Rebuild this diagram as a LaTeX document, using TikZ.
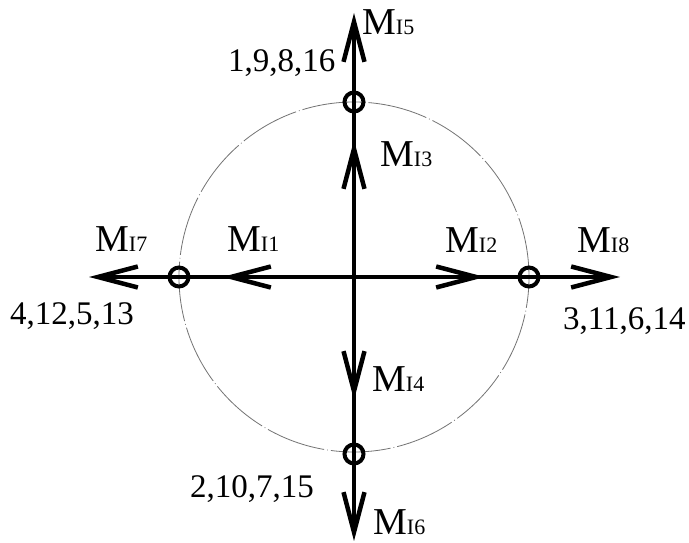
\documentclass[tikz,border=0pt]{standalone}
\usepackage{fontspec}
\setmainfont{Liberation Serif}
\usetikzlibrary{arrows.meta}
\newcommand\Mlab[1]{{\fontsize{38}{40}\selectfont M}{\fontsize{22}{24}\selectfont #1}}
\newcommand\numlab{\fontsize{33}{36}\selectfont}
\tikzset{
  mainline/.style={line width=4.5pt},
  arr/.style={mainline,-{Straight Barb[length=40pt,width=21pt,line width=4.5pt]}},
  pin/.style={line width=4pt},
  ring/.style={draw=black!55,line width=0.8pt,dash pattern=on 60pt off 3pt on 0.8pt off 3pt},
  lab/.style={inner sep=0pt,anchor=base west},
}
\begin{document}
\begin{tikzpicture}[x=1pt,y=1pt]
\useasboundingbox (0,0) rectangle (689,543);
\coordinate (C) at (354,266);
\coordinate (t5) at (354,530);
\coordinate (t6) at (354,2);
\coordinate (t7) at (89,266);
\coordinate (t8) at (620,266);
\coordinate (m3) at (354,403);
\coordinate (m4) at (354,143);
\coordinate (m1) at (222,266);
\coordinate (m2) at (485,266);
\coordinate (pT) at (354,441);
\coordinate (pB) at (354,89);
\coordinate (pL) at (179,266);
\coordinate (pR) at (529,266);
\draw[ring] (C) circle (175);
\draw[arr] (C) -- (t5);
\draw[arr] (C) -- (t6);
\draw[arr] (C) -- (t7);
\draw[arr] (C) -- (t8);
\draw[arr] (C) -- (m3);
\draw[arr] (C) -- (m4);
\draw[arr] (C) -- (m1);
\draw[arr] (C) -- (m2);
\foreach \p in {pT,pB,pL,pR} \draw[pin] (\p) circle (9.5);
\node[lab] (l5) at (362,508) {\Mlab{I5}};
\node[lab] (l3) at (380,376) {\Mlab{I3}};
\node[lab] (l7) at (95,291) {\Mlab{I7}};
\node[lab] (l1) at (227,291) {\Mlab{I1}};
\node[lab] (l2) at (445,290) {\Mlab{I2}};
\node[lab] (l8) at (577,290) {\Mlab{I8}};
\node[lab] (l4) at (372,151) {\Mlab{I4}};
\node[lab] (l6) at (373,8) {\Mlab{I6}};
\node[lab] (nT) at (228,471) {\numlab 1,9,8,16};
\node[lab] (nL) at (10,218) {\numlab 4,12,5,13};
\node[lab] (nR) at (563,213) {\numlab 3,11,6,14};
\node[lab] (nB) at (190,45) {\numlab 2,10,7,15};
\end{tikzpicture}
\end{document}
